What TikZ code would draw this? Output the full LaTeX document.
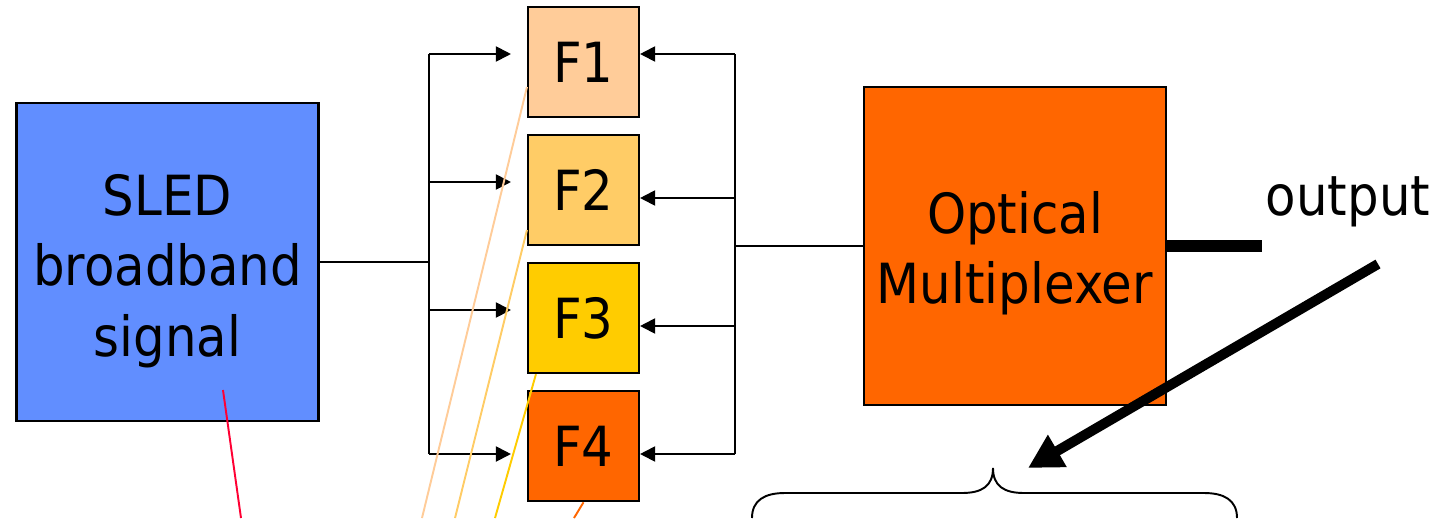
\documentclass[tikz,border=0pt]{standalone}
\usepackage{fontspec}
\setmainfont{DejaVu Sans}[FakeStretch=0.9]
\usetikzlibrary{arrows.meta, positioning}

\definecolor{sledblue}{HTML}{618EFF}
\definecolor{fpeach}{HTML}{FFCC99}
\definecolor{fsand}{HTML}{FFCC66}
\definecolor{fgold}{HTML}{FFCC00}
\definecolor{forange}{HTML}{FF6600}
\definecolor{fred}{HTML}{FF0033}

\begin{document}
\begin{tikzpicture}[
    x=0.02cm, y=-0.02cm,
    bigfont/.style={font=\fontsize{31.5}{40}\selectfont},
    box/.style={draw, line width=1.2pt, align=center, inner sep=0pt, bigfont},
    bigbox/.style={box, minimum width=6.04cm, minimum height=6.36cm},
    boxtext/.style={align=center, inner sep=0pt, bigfont},
    fbox/.style={box, minimum width=2.22cm, minimum height=2.2cm, fill=#1},
    wire/.style={line width=1.1pt},
    tap/.style={line width=1.1pt, draw=#1},
    >={Triangle[length=0.3cm, width=0.3cm]},
    node distance=0.32cm
  ]
  \useasboundingbox (0,0) rectangle (1441,518);

  % Source
  \node[bigbox, fill=sledblue] (sled) at (167.5,262) {};
  \node[boxtext] (sledtext) at ([yshift=-0.18cm]sled.center) {SLED\\broadband\\signal};

  % Filters
  \node[fbox=fpeach] (f1) at (583.5,62) {F1};
  \node[fbox=fsand, below=of f1] (f2) {F2};
  \node[fbox=fgold, below=of f2] (f3) {F3};
  \node[fbox=forange, below=of f3] (f4) {F4};

  % Multiplexer
  \node[bigbox, fill=forange] (mux) at (1015,246) {};
  \node[boxtext] (muxtext) at ([yshift=-0.15cm]mux.center) {Optical\\Multiplexer};
  \node[bigfont, anchor=base] (outlbl) at (1348,215) {output};

  % Bus points
  \coordinate (l1) at (429,54);
  \coordinate (l2) at (429,182);
  \coordinate (l3) at (429,310);
  \coordinate (l4) at (429,454);
  \coordinate (r1) at (735,54);
  \coordinate (r2) at (735,198);
  \coordinate (r3) at (735,326);
  \coordinate (r4) at (735,454);
  \coordinate (rm) at (735,246);

  % Splitter side
  \draw[wire] (sled.east) -- (sled.east -| l1);
  \draw[wire] (l1) -- (l4);
  \draw[wire, ->, shorten >=0.32cm] (l1) -- (l1 -| f1.west);
  \draw[wire, ->, shorten >=0.32cm] (l2) -- (l2 -| f2.west);
  \draw[wire, ->, shorten >=0.32cm] (l3) -- (l3 -| f3.west);
  \draw[wire, ->, shorten >=0.32cm] (l4) -- (l4 -| f4.west);

  % Combiner side
  \draw[wire] (r1) -- (r4);
  \draw[wire, ->] (r1) -- (r1 -| f1.east);
  \draw[wire, ->] (r2) -- (r2 -| f2.east);
  \draw[wire, ->] (r3) -- (r3 -| f3.east);
  \draw[wire, ->] (r4) -- (r4 -| f4.east);
  \draw[wire] (rm) -- (mux.west);

  % Output
  \coordinate (outend) at (1262,246);
  \draw[line width=0.24cm] (mux.east) -- (outend);
  \coordinate (arrfrom) at (1378,264);
  \coordinate (arrto) at (1028,468);
  \draw[line width=0.2cm, -{Triangle[length=0.68cm, width=0.7cm]}] (arrfrom) -- (arrto);

  % Brace
  \draw[line width=1.1pt] (752,518) .. controls (752,500) and (765,493) .. (785,493)
    -- (962,493) .. controls (982,493) and (993,486) .. (993,468)
    .. controls (993,486) and (1004,493) .. (1024,493)
    -- (1204,493) .. controls (1224,493) and (1237,500) .. (1237,518);

  % Taps
  \coordinate (e0) at (241,518);
  \coordinate (e1) at (422,518);
  \coordinate (e2) at (455,518);
  \coordinate (e3) at (495,518);
  \coordinate (e4) at (574,518);
  \draw[tap=fred] ([xshift=1.11cm, yshift=0.64cm]sled.south) -- (e0);
  \draw[tap=fpeach] ([yshift=-0.5cm]f1.west) -- (e1);
  \draw[tap=fsand] ([yshift=-0.8cm]f2.west) -- (e2);
  \draw[tap=fgold] ([xshift=0.18cm]f3.south west) -- (e3);
  \draw[tap=forange] (f4.south) -- (e4);
\end{tikzpicture}
\end{document}
